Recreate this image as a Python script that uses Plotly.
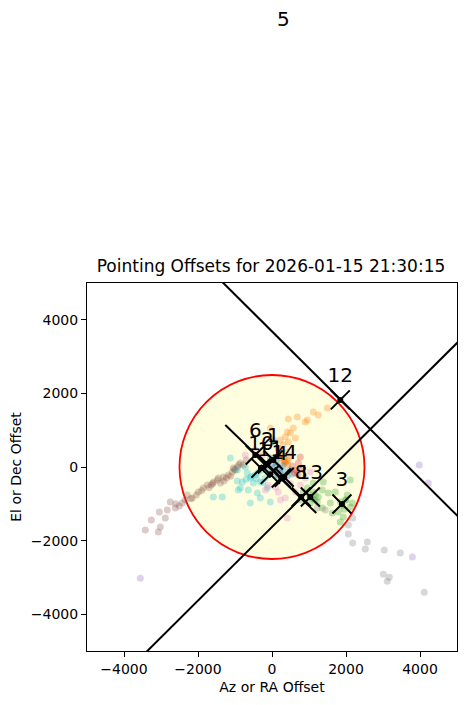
import plotly.graph_objects as go

# scattered offsets per group (tab10 colours)
brown_x = [-3424, -3262, -3073, -3046, -3019, -2884, -2830, -2749, -2614, -2505, -2424, -2289, -2154, -2046,
           -1992, -1857, -1749, -1641, -1586, -1478, -1397, -1316, -1235, -1181, -1073, -1046, -992, -938,
           -857, -776, -695, -1700, -2200, -1900, -1300, -1120, -2600, -2350, -1600, -1450, -1020, -900]
brown_y = [-1714, -1442, -1769, -1224, -1633, -1388, -1170, -952, -1116, -1061, -980, -762, -844, -762,
           -680, -571, -490, -490, -408, -354, -435, -272, -299, -218, -136, -27, -82, 0,
           109, 54, 190, -560, -860, -640, -380, -250, -1000, -900, -450, -300, -60, 60]
cyan_x = [-1127, -938, -668, -803, -586, -911, -586, -397, -127, -46, -1586, -1343, -722, -316,
          -938, -857, -641, -505, -316, -451, -262, -181, -700, -560, -420, -380, -250]
cyan_y = [245, -82, -163, -408, -299, -626, -980, -707, -571, -952, -816, -816, 0, -408,
          -381, -571, -626, -435, -844, -218, -82, -299, -330, -250, -320, -150, -420]
orange_x = [1495, 1251, 1116, 954, 900, 441, 576, 414, 359, 495, 630, 441, 305, 170, -46, 224, 684,
            278, 332, 386, 441, 359, 224, 495, 300, 330, 360, 390, 420]
orange_y = [1605, 1415, 1497, 1279, 1224, 1306, 1061, 952, 816, 925, 789, 680, 599, 517, 1061, 735, 1361,
            327, 245, 408, 190, 136, 245, 299, 200, 150, 100, 160, 60]
blue_x = [35, -46, 116, 224, 359, 495, 89, -100, 278, 414, 549, 120, 180, 60, 230, 300, 150, 0]
blue_y = [735, 245, 54, -27, -136, -82, -218, -82, -299, -245, -190, 150, -100, -20, -180, 40, -300, 100]
red_x = [765, 711, 657, 819, 549, 600, 700]
red_y = [272, 109, -82, -27, 27, -150, -200]
pink_x = [359, 224, 414, -451, -722, 765, 630, -181, 170, 900, 1035, -262, 500, -100, 100]
pink_y = [-844, -898, -1388, 463, 327, -490, -680, -626, -680, -299, -136, 327, -450, -500, -550]
green_x = [957, 1116, 1251, 1224, 1035, 846, 1386, 1359, 765, 1116, 1711, 2035, 2116, 2116, 1792, 1576,
           1927, 1846, 1630, 1522, 1981, 2170, 1359, 1170, 1000, 1080, 1150, 1850, 1900, 1950, 2000]
green_y = [-571, -680, -816, -952, -980, -680, -408, -1116, -898, -435, -680, -762, -354, -1088, -1224, -980,
           -1361, -1497, -1252, -707, -898, -980, -626, -762, -750, -850, -900, -950, -1050, -1150, -900]
gray_x = [2181, 2062, 2062, 2181, 2576, 2522, 3035, 3468, 3008, 3170, 3116, 4116, 1224, 1441]
gray_y = [-1388, -1578, -1823, -2068, -2041, -2231, -2258, -2340, -2912, -2993, -3102, -3401, -1116, -1170]
purple_x = [3981, 4224, 3793, -3559]
purple_y = [54, -435, -2449, -3020]

# mean offsets with their numbers
ids = ["1", "2", "14", "6", "10", "11", "4", "8", "13", "3", "12"]
mean_x = [35, -127, 330, -451, -300, -46, 250, 790, 1035, 1890, 1846]
mean_y = [190, 82, -280, 327, -30, -200, -300, -816, -816, -1007, 1823]

# fitted lines
line1_x = [-2000, 6000]
line1_y = [5684, -2316]
line2_x = [-4000, 6000]
line2_y = [-5630, 4370]
seg_x = [-1262, 1197]
seg_y = [1143, -1252]

groups = [
    (brown_x, brown_y, "#8c564b"),
    (cyan_x, cyan_y, "#17becf"),
    (orange_x, orange_y, "#ff7f0e"),
    (pink_x, pink_y, "#e377c2"),
    (blue_x, blue_y, "#1f77b4"),
    (red_x, red_y, "#d62728"),
    (green_x, green_y, "#2ca02c"),
    (gray_x, gray_y, "#7f7f7f"),
    (purple_x, purple_y, "#9467bd"),
]

fig = go.Figure()

for gx, gy, col in groups:
    fig.add_trace(go.Scatter(
        x=gx, y=gy, mode="markers",
        marker=dict(color=col, size=7, opacity=0.3, line=dict(width=0)),
    ))

for lx, ly in [(line1_x, line1_y), (line2_x, line2_y), (seg_x, seg_y)]:
    fig.add_trace(go.Scatter(
        x=lx, y=ly, mode="lines",
        line=dict(color="black", width=2)
    ))

fig.add_trace(go.Scatter(
    x=mean_x, y=mean_y, mode="markers",
    marker=dict(color="black", size=6)
))
fig.add_trace(go.Scatter(
    x=mean_x, y=mean_y, mode="markers+text",
    text=ids, textposition="top center",
    textfont=dict(size=20, color="black", family="DejaVu Sans"),
    marker=dict(symbol="x-thin", size=19, line=dict(color="black", width=2))
))

# acceptance circle
fig.add_shape(type="circle", xref="x", yref="y",
              x0=-2500, y0=-2500, x1=2500, y1=2500,
              fillcolor="#ffffe0", line=dict(color="red", width=1.8),
              layer="below")

axis_common = dict(
    showgrid=False, zeroline=False, showline=True, mirror=True,
    linecolor="black", linewidth=1, ticks="outside", ticklen=5,
    tickcolor="black", tickfont=dict(size=14, color="black"),
    automargin=False,
)

# page body adds an 8px offset, so the figure is 8px smaller on both sides
W, H = 461, 697
fig.update_layout(
    width=W, height=H,
    margin=dict(l=79, r=12, t=275, b=54),
    paper_bgcolor="white", plot_bgcolor="white",
    showlegend=False,
    font=dict(family="DejaVu Sans", color="black"),
    title=dict(text="Pointing Offsets for 2026-01-15 21:30:15",
               x=(271 - 8) / W, xanchor="center", y=1 - (266 - 8) / H, yanchor="middle",
               font=dict(size=17)),
    xaxis=dict(range=[-5000, 5000], tickvals=[-4000, -2000, 0, 2000, 4000],
               ticktext=["\u22124000", "\u22122000", "0", "2000", "4000"],
               title=dict(text="Az or RA Offset", font=dict(size=14), standoff=6),
               **axis_common),
    yaxis=dict(range=[-5000, 5000], tickvals=[-4000, -2000, 0, 2000, 4000],
               ticktext=["\u22124000", "\u22122000", "0", "2000", "4000"],
               title=dict(text="El or Dec Offset", font=dict(size=14), standoff=8),
               **axis_common),
)

fig.add_annotation(text="5", xref="paper", yref="paper",
                   x=(283 - 87) / 370, y=1 + (283 - 19) / 368,
                   xanchor="center", yanchor="middle", showarrow=False,
                   font=dict(size=20, color="black"))

fig.write_html("out.html")
